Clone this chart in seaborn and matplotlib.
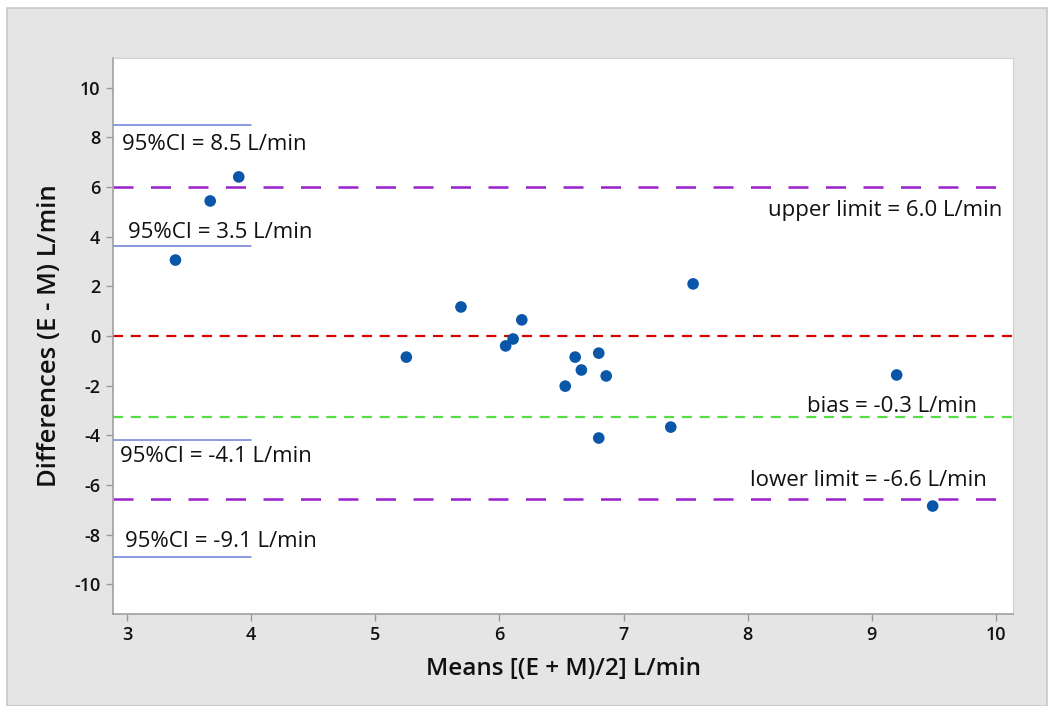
import matplotlib
matplotlib.use("Agg")
import matplotlib.pyplot as plt
import seaborn as sns
import pandas as pd
from matplotlib.patches import Rectangle

# ---- data ----
means = [3.39, 3.67, 3.90, 5.25, 5.69, 6.05, 6.11, 6.18, 6.53, 6.61,
         6.66, 6.80, 6.86, 6.80, 7.38, 7.56, 9.20, 9.49]
diffs = [3.06, 5.44, 6.41, -0.85, 1.17, -0.40, -0.12, 0.65, -2.02, -0.85,
         -1.37, -0.69, -1.61, -4.11, -3.67, 2.10, -1.57, -6.85]

zero_line = 0.0
bias_line = -3.27
upper_limit = 6.0
lower_limit = -6.55
ci_levels = [8.5, 3.63, -4.2, -8.9]
ci_labels = ["95%CI = 8.5 L/min", "95%CI = 3.5 L/min",
             "95%CI = -4.1 L/min", "95%CI = -9.1 L/min"]
limit_labels = ["upper limit = 6.0 L/min", "bias = -0.3 L/min",
                "lower limit = -6.6 L/min"]
x_ticks = [3, 4, 5, 6, 7, 8, 9, 10]
y_ticks = [-10, -8, -6, -4, -2, 0, 2, 4, 6, 8, 10]

sns.set_style("white")
plt.rcParams["font.family"] = ["Open Sans", "DejaVu Sans"]
plt.rcParams["axes.unicode_minus"] = False

fig = plt.figure(figsize=(10.5, 7.06), dpi=100)
fig.patch.set_facecolor("white")
fig.add_artist(Rectangle((7 / 1050, 0), 1040 / 1050, 1 - 8 / 706,
                         transform=fig.transFigure, facecolor="#e5e5e5",
                         edgecolor="#c8c8c8", linewidth=1.2, zorder=-10))

ax = fig.add_axes([113 / 1050, 1 - 614 / 706, 900 / 1050, 556 / 706])
ax.set_facecolor("white")

df = pd.DataFrame({"mean": means, "diff": diffs})

# reference lines
ax.axhline(upper_limit, color="#9a1fcc", lw=1.8, dashes=(8, 7), zorder=1)
ax.axhline(lower_limit, color="#9a1fcc", lw=1.8, dashes=(8, 7), zorder=1)
ax.axhline(zero_line, color="#d40000", lw=1.6, dashes=(4.5, 3.5), zorder=1)
ax.axhline(bias_line, color="#55dd44", lw=1.6, dashes=(4.5, 3.5), zorder=1)

for lv in ci_levels:
    ax.plot([2.887, 4.0], [lv, lv], color="#6a7fd6", lw=1.1, zorder=1)

sns.scatterplot(data=df, x="mean", y="diff", ax=ax, color="#0a56a8",
                s=70, edgecolor="none", zorder=3)

# labels
txt_kw = dict(fontsize=16, color="#111111")
ci_pos = [(2.96, 7.7), (3.01, 4.15), (2.94, -4.84), (2.98, -8.27)]
for (x, y), t in zip(ci_pos, ci_labels):
    ax.text(x, y, t, ha="left", va="center", **txt_kw)
lim_pos = [(10.05, 5.04), (9.85, -2.86), (9.93, -5.81)]
for (x, y), t in zip(lim_pos, limit_labels):
    ax.text(x, y, t, ha="right", va="center", **txt_kw)

ax.set_xlim(2.887, 10.137)
ax.set_ylim(-11.2, 11.2)
ax.set_xticks(x_ticks)
ax.set_yticks(y_ticks)
ax.tick_params(axis="both", which="both", direction="out", length=5,
               width=1, color="#999999", labelsize=13, labelcolor="#111111",
               bottom=True, left=True, pad=4)
for lab in ax.get_xticklabels() + ax.get_yticklabels():
    lab.set_fontweight("semibold")

for side in ["left", "bottom"]:
    ax.spines[side].set_color("#a0a0a0")
    ax.spines[side].set_linewidth(1.2)
for side in ["top", "right"]:
    ax.spines[side].set_color("#d0d0d0")
    ax.spines[side].set_linewidth(0.8)

ax.set_xlabel("Means [(E + M)/2] L/min", fontsize=17.5, fontweight="semibold",
              color="#111111", labelpad=9)
ax.set_ylabel("Differences (E - M) L/min", fontsize=18.5, fontweight="semibold",
              color="#111111", labelpad=9)

fig.savefig("out.png", dpi=100)
